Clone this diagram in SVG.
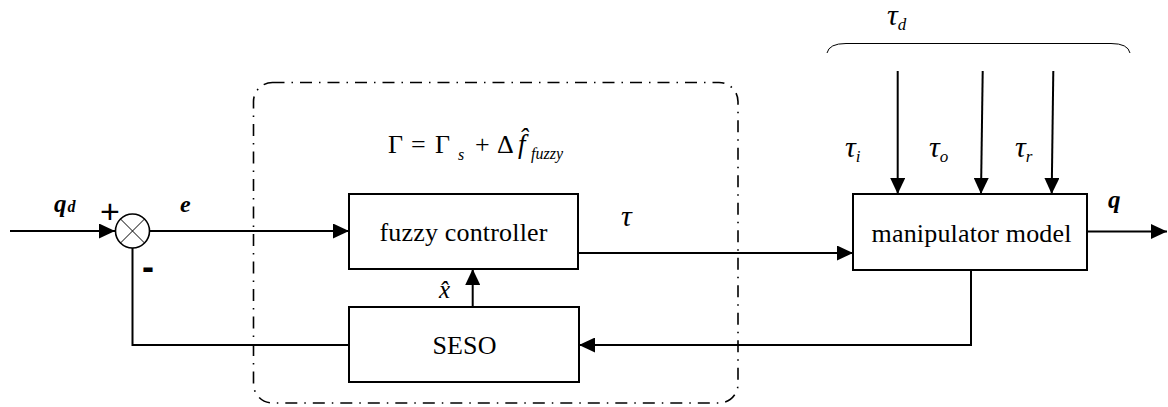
<svg xmlns="http://www.w3.org/2000/svg" width="1168" height="407" viewBox="0 0 1168 407">
  <style>
    .box { fill: #fff; stroke: #000; stroke-width: 2; }
    .wire { fill: none; stroke: #000; stroke-width: 2; }
    .thin { fill: none; stroke: #000; stroke-width: 1; }
    .frame { fill: none; stroke: #000; stroke-width: 1.6; stroke-dasharray: 12 7 1.5 7; }
    .lbl { font-family: "Liberation Serif", "Times New Roman", serif; font-size: 26px; fill: #000; }
    .it { font-family: "Liberation Serif", "Times New Roman", serif; font-style: italic; fill: #000; }
    .bi { font-family: "Liberation Serif", "Times New Roman", serif; font-style: italic; font-weight: bold; fill: #000; }
    .sign { font-family: "Liberation Sans", Arial, sans-serif; fill: #000; }
  </style>
  <defs>
    <marker id="arrow" markerUnits="userSpaceOnUse" markerWidth="16" markerHeight="15" refX="16" refY="7.5" orient="auto">
      <path d="M0,0 L16,7.5 L0,15 Z" fill="#000"/>
    </marker>
  </defs>

  <rect width="1168" height="407" fill="#fff"/>

  <!-- controller boundary (dash-dot, rounded) -->
  <rect id="controller-boundary" class="frame" x="253.5" y="82.5" width="484.5" height="320.5" rx="19" ry="19"/>

  <!-- disturbance brace -->
  <path class="thin" d="M827,53 Q829,43.5 846,43.5 L1111,43.5 Q1128,43.5 1130,53"/>

  <g id="connectors">
    <path class="wire" d="M10,231 H115" marker-end="url(#arrow)"/>
    <path class="wire" d="M149.5,231 H349" marker-end="url(#arrow)"/>
    <path class="wire" d="M578,253 H853" marker-end="url(#arrow)"/>
    <path class="wire" d="M1087,231.5 H1167" marker-end="url(#arrow)"/>
    <path class="wire" d="M971,270 V345 H579" marker-end="url(#arrow)"/>
    <path class="wire" d="M349,345 H132.5 V248"/>
    <path class="wire" d="M472.7,307 V269" marker-end="url(#arrow)"/>
    <path class="wire" d="M897.7,71 V194" marker-end="url(#arrow)"/>
    <path class="wire" d="M982.7,71 L981,194" marker-end="url(#arrow)"/>
    <path class="wire" d="M1053.3,71 L1051.7,194" marker-end="url(#arrow)"/>
  </g>

  <!-- summing junction -->
  <g id="sum">
    <circle cx="132.5" cy="231" r="17" fill="#fff" stroke="#000" stroke-width="1.6"/>
    <path class="thin" stroke-width="1.2" d="M120.5,219 L144.5,243 M144.5,219 L120.5,243"/>
    <text class="sign" x="110" y="223" font-size="34" text-anchor="middle">+</text>
    <text class="sign" x="148" y="279" font-size="36" font-weight="bold" text-anchor="middle">-</text>
  </g>

  <g id="fuzzy-controller">
    <rect class="box" x="349" y="194" width="229" height="75"/>
    <text class="lbl" x="463.5" y="241" text-anchor="middle" textLength="168" lengthAdjust="spacing">fuzzy controller</text>
  </g>

  <g id="seso">
    <rect class="box" x="349" y="307" width="230" height="75"/>
    <text class="lbl" x="464.5" y="354" text-anchor="middle" textLength="64" lengthAdjust="spacing">SESO</text>
  </g>

  <g id="manipulator-model">
    <rect class="box" x="853" y="194" width="234" height="76"/>
    <text class="lbl" x="971.5" y="242" text-anchor="middle" textLength="200" lengthAdjust="spacing">manipulator model</text>
  </g>

  <!-- signal labels -->
  <g id="labels">
    <text class="bi" x="54" y="212" font-size="25">q<tspan font-size="16" dx="1">d</tspan></text>
    <text class="bi" x="180" y="212" font-size="24">e</text>
    <text class="bi" x="1108" y="208" font-size="25">q</text>
    <text class="it" x="621" y="226" font-size="30">τ</text>
    <text class="it" x="439" y="298" font-size="25">x&#x302;</text>

    <text class="it" x="887" y="25" font-size="30">τ<tspan font-size="17" dy="5">d</tspan></text>
    <text class="it" x="845" y="157" font-size="30">τ<tspan font-size="17" dy="5">i</tspan></text>
    <text class="it" x="929" y="157" font-size="30">τ<tspan font-size="17" dy="5">o</tspan></text>
    <text class="it" x="1015" y="157" font-size="30">τ<tspan font-size="17" dy="5">r</tspan></text>
  </g>

  <!-- control law -->
  <g id="control-law">
    <text class="lbl" font-size="27" y="153"><tspan x="388">Γ</tspan><tspan x="411">=</tspan><tspan x="435">Γ</tspan></text>
    <text class="it" x="458" y="160" font-size="16">s</text>
    <text class="lbl" font-size="27" y="153"><tspan x="475">+</tspan><tspan x="497">Δ</tspan></text>
    <text class="it" x="518" y="153" font-size="27">f&#x302;</text>
    <text class="it" x="531" y="159" font-size="16">fuzzy</text>
  </g>
</svg>
